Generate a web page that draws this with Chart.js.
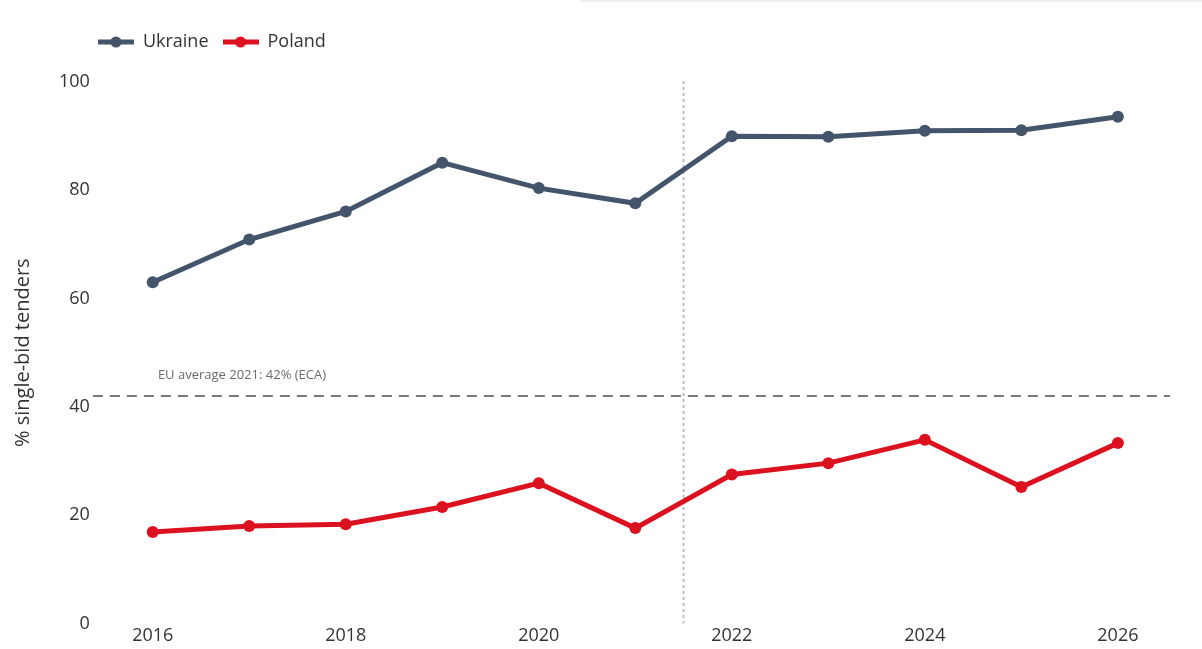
<!DOCTYPE html>
<html>
<head>
<meta charset="utf-8">
<script src="https://cdn.jsdelivr.net/npm/chart.js@4.4.1/dist/chart.umd.min.js"></script>
<style>
  html, body { margin: 0; padding: 0; background: #fff; }
  #wrap { position: relative; width: 1202px; height: 649px; }
  #topbar { position: absolute; left: 580px; top: 0; width: 622px; height: 2px; background: #eeeeee; }
</style>
</head>
<body>
<div id="wrap">
  <div id="topbar"></div>
  <canvas id="tenders" width="1202" height="649"></canvas>
</div>
<script>
const years = [2016, 2017, 2018, 2019, 2020, 2021, 2022, 2023, 2024, 2025, 2026];
const ukraine = [63.0, 70.9, 76.1, 85.1, 80.4, 77.6, 90.0, 89.9, 91.0, 91.1, 93.6];
const poland = [16.9, 18.0, 18.3, 21.5, 25.9, 17.6, 27.5, 29.6, 33.9, 25.2, 33.3];
const xTicks = [2016, 2018, 2020, 2022, 2024, 2026];
const yTicks = [0, 20, 40, 60, 80, 100];
const euAverage = 42;
const euLabel = 'EU average 2021: 42% (ECA)';
const splitYear = 2021.5;

const UA_COLOR = '#44546a';
const PL_COLOR = '#dc111f';
const FONT = "'Open Sans', 'Noto Sans', sans-serif";

// little line-with-dot swatch for the legend
function swatch(color) {
  const c = document.createElement('canvas');
  c.width = 36; c.height = 12;
  const g = c.getContext('2d');
  g.strokeStyle = color;
  g.lineWidth = 5;
  g.beginPath(); g.moveTo(0, 6); g.lineTo(36, 6); g.stroke();
  g.fillStyle = color;
  g.beginPath(); g.arc(18, 6, 5.5, 0, Math.PI * 2); g.fill();
  return c;
}

// push the plot down below the legend and nudge the legend left
const legendGap = {
  id: 'legendGap',
  beforeInit(chart) {
    const fit = chart.legend.fit;
    chart.legend.fit = function () {
      fit.call(this);
      this.height += 21;
    };
  },
  afterLayout(chart) {
    chart.legend.left -= 9;
    chart.legend.right -= 9;
  }
};

const refLines = {
  id: 'refLines',
  beforeDatasetsDraw(chart) {
    const { ctx, chartArea, scales } = chart;
    const x = scales.x.getPixelForValue(splitYear);
    const y = scales.y.getPixelForValue(euAverage);
    ctx.save();
    // vertical split marker
    ctx.strokeStyle = '#bdbdbd';
    ctx.lineWidth = 2;
    ctx.setLineDash([3, 3]);
    ctx.beginPath(); ctx.moveTo(x, chartArea.top - 1); ctx.lineTo(x, chartArea.bottom); ctx.stroke();
    // EU average line
    ctx.strokeStyle = '#7a7a7a';
    ctx.lineWidth = 2;
    ctx.setLineDash([10, 7]);
    ctx.beginPath(); ctx.moveTo(chartArea.left, y); ctx.lineTo(chartArea.right, y); ctx.stroke();
    ctx.setLineDash([]);
    ctx.fillStyle = '#6b6b6b';
    ctx.font = '13px ' + FONT;
    ctx.textBaseline = 'alphabetic';
    ctx.fillText(euLabel, chartArea.left + 65, y - 17);
    ctx.restore();
  }
};

new Chart(document.getElementById('tenders'), {
  type: 'line',
  data: {
    datasets: [
      {
        label: 'Ukraine',
        data: years.map((yr, i) => ({ x: yr, y: ukraine[i] })),
        borderColor: UA_COLOR,
        backgroundColor: UA_COLOR,
        borderWidth: 5,
        pointRadius: 6,
        pointBorderWidth: 0
      },
      {
        label: 'Poland',
        data: years.map((yr, i) => ({ x: yr, y: poland[i] })),
        borderColor: PL_COLOR,
        backgroundColor: PL_COLOR,
        borderWidth: 5,
        pointRadius: 6,
        pointBorderWidth: 0
      }
    ]
  },
  options: {
    responsive: false,
    animation: false,
    layout: { padding: { top: 19, right: 32, bottom: 0, left: 11 } },
    plugins: {
      legend: {
        position: 'top',
        align: 'start',
        fullSize: false,
        labels: {
          usePointStyle: true,
          pointStyleWidth: 36,
          padding: 14,
          color: '#333',
          font: { family: FONT, size: 18 },
          generateLabels(chart) {
            return chart.data.datasets.map((ds, i) => ({
              text: ds.label,
              pointStyle: swatch(ds.borderColor),
              fillStyle: ds.borderColor,
              strokeStyle: ds.borderColor,
              lineWidth: 0,
              hidden: false,
              datasetIndex: i,
              fontColor: '#333'
            }));
          }
        }
      },
      tooltip: { enabled: false }
    },
    scales: {
      x: {
        type: 'linear',
        min: 2015.38,
        max: 2026.54,
        grid: { display: false, drawTicks: false },
        border: { display: false },
        afterBuildTicks: axis => { axis.ticks = xTicks.map(v => ({ value: v })); },
        ticks: {
          color: '#333',
          padding: 2,
          font: { family: FONT, size: 18 },
          callback: v => String(v)
        }
      },
      y: {
        min: 0,
        max: 100,
        grid: { display: false, drawTicks: false },
        border: { display: false },
        afterBuildTicks: axis => { axis.ticks = yTicks.map(v => ({ value: v })); },
        ticks: {
          color: '#333',
          padding: 3,
          font: { family: FONT, size: 18 }
        },
        title: {
          display: true,
          text: '% single-bid tenders',
          color: '#333',
          padding: { top: 0, bottom: 21 },
          font: { family: FONT, size: 20 }
        }
      }
    }
  },
  plugins: [refLines, legendGap]
});
</script>
</body>
</html>
